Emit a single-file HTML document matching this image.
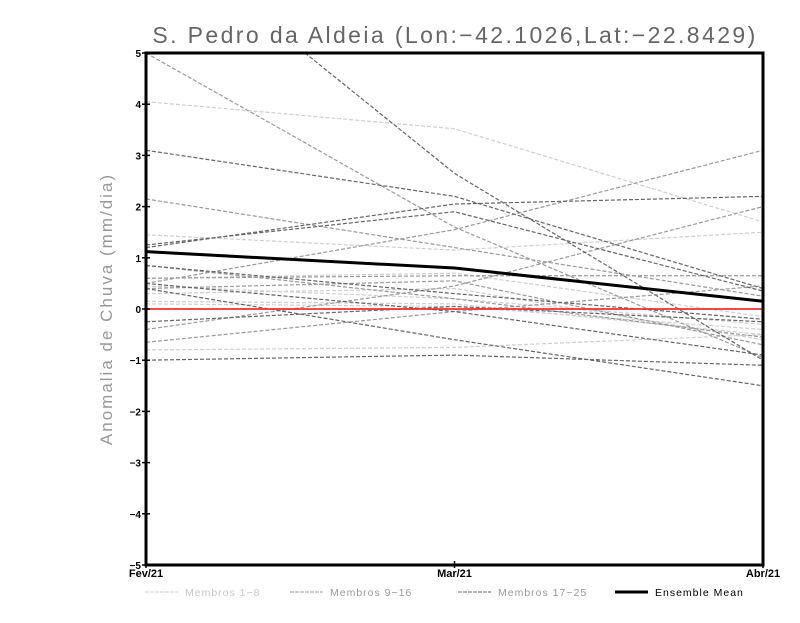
<!DOCTYPE html>
<html><head><meta charset="utf-8"><style>
body{margin:0;background:#fff;}
svg text{font-family:"Liberation Sans",sans-serif;}
</style></head><body>
<svg id="chart" width="800" height="618" viewBox="0 0 800 618" xmlns="http://www.w3.org/2000/svg">
<defs><clipPath id="clip"><rect x="146" y="53" width="617" height="512"/></clipPath></defs>
<text x="455" y="43" text-anchor="middle" font-size="23" fill="#666" letter-spacing="2.4">S. Pedro da Aldeia (Lon:−42.1026,Lat:−22.8429)</text>
<text transform="translate(112,309) rotate(-90)" text-anchor="middle" font-size="17" fill="#999" letter-spacing="2">Anomalia de Chuva (mm/dia)</text>
<g id="grid"></g>
</svg>
<script>
const categories=["Fev/21","Mar/21","Abr/21"];
const yTicks=[5,4,3,2,1,0,-1,-2,-3,-4,-5];
const membros1_8=[[4.05,3.52,1.7],[1.45,1.15,1.5],[0.45,0.2,-0.3],[0.1,0.05,-0.4],[0.6,0.7,-0.15],[-0.8,-0.75,-0.5],[0.3,0.4,-0.6],[0.15,0.1,-0.5]];
const membros9_16=[[5,1.6,-0.95],[2.15,1.2,0.25],[0.5,1.55,3.1],[0.85,0.2,-0.55],[-0.4,0.45,2.0],[0.6,0.65,0.65],[-0.65,-0.05,0.45],[0.4,0.55,-0.7]];
const membros17_25=[[3.1,2.2,0.4],[7.5,2.65,-1.0],[1.25,1.9,0.35],[1.2,2.05,2.2],[0.85,0.3,-0.2],[0.5,-0.05,-0.9],[-0.25,0.05,-0.25],[-1.0,-0.9,-1.1],[0.4,-0.6,-1.5]];
const ensembleMean=[1.12,0.8,0.15];
const NS="http://www.w3.org/2000/svg";
const svg=document.getElementById('chart');
const L=146,R=763,T=53,B=565;
const xs=i=>L+(R-L)*i/(categories.length-1);
const ys=v=>T+(5-v)*(B-T)/10;
function mk(t,a,p){const e=document.createElementNS(NS,t);for(const k in a)e.setAttribute(k,a[k]);(p||svg).appendChild(e);return e;}
const g=mk('g',{'clip-path':'url(#clip)'});


function series(arr,color,name,dash,w){arr.forEach((s,j)=>{const l=mk('polyline',{points:s.map((v,i)=>xs(i)+','+ys(v)).join(' '),fill:'none',stroke:color,'stroke-width':w,'stroke-dasharray':dash},g);

});}
series(membros1_8,'#cfcfcf','membro-light','4 2',1.2);
series(membros9_16,'#9a9a9a','membro-mid','4 2',1.2);
series(membros17_25,'#666','membro-dark','4 2',1.2);
const z=mk('line',{x1:L,x2:R,y1:ys(0),y2:ys(0),stroke:'#f03030','stroke-width':1.8},g);


const m=mk('polyline',{points:ensembleMean.map((v,i)=>xs(i)+','+ys(v)).join(' '),fill:'none',stroke:'#000','stroke-width':3},g);


const fr=mk('rect',{x:L,y:T,width:R-L,height:B-T,fill:'none',stroke:'#000','stroke-width':3});


yTicks.forEach(v=>{mk('line',{x1:L-4,x2:L+4,y1:ys(v),y2:ys(v),stroke:'#000','stroke-width':1.5});
const t=mk('text',{x:L-5,y:ys(v)+4,'text-anchor':'end','font-size':10,'font-weight':'bold'});t.textContent=v<0?'−'+(-v):v;

});
categories.forEach((c,i)=>{mk('line',{x1:xs(i),x2:xs(i),y1:B-4,y2:B+3,stroke:'#000','stroke-width':1.5});
const t=mk('text',{x:xs(i),y:B+12,'text-anchor':'middle','font-size':11,'font-weight':'bold'});t.textContent=c;

});
const leg=[['Membros 1−8','#cfcfcf',145,'4 1',1],['Membros 9−16','#9a9a9a',290,'4 1',1],['Membros 17−25','#666',458,'4 1',1],['Ensemble Mean','#000',615,'',3]];
leg.forEach(([lab,col,x,d,w])=>{const gg=mk('g',{});


mk('line',{x1:x,x2:x+33,y1:592,y2:592,stroke:col,'stroke-width':w,'stroke-dasharray':d},gg);
const t=mk('text',{x:x+40,y:596,'font-size':10.5,fill:col==='#000'?'#000':(col==='#cfcfcf'?'#c8c8c8':'#999'),'letter-spacing':1},gg);t.textContent=lab;});
</script>
</body></html>
